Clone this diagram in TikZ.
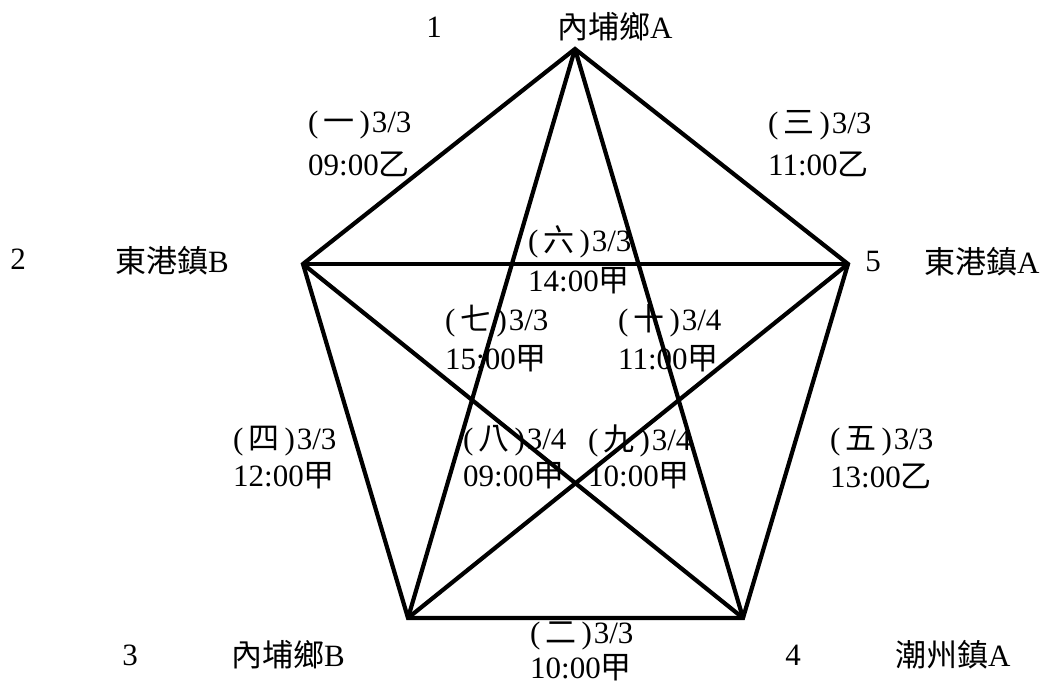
\documentclass[tikz,border=0pt]{standalone}
\usepackage{fontspec}
\setmainfont{Liberation Serif}
\newfontfamily\cjk{Noto Sans CJK TC}
\newcommand\zh[1]{{\cjk #1}}
\newcommand\pz[1]{(\kern5pt{\cjk #1}\kern5pt)\kern2pt}
\begin{document}
\begin{tikzpicture}[x=1pt,y=-1pt,
  edge/.style={line width=4.2pt, line join=miter, line cap=butt},
  txt/.style={font=\fontsize{31}{36}\selectfont, inner sep=0pt, anchor=west},
  num/.style={font=\fontsize{31}{36}\selectfont, inner sep=0pt, anchor=center}]
\useasboundingbox (0,0) rectangle (1043,684);
\coordinate (v1) at (575,49);
\coordinate (v2) at (303,264);
\coordinate (v5) at (848,264);
\coordinate (v3) at (408,618);
\coordinate (v4) at (743,618);
\draw[edge] (v1) -- (v2) -- (v3) -- (v4) -- (v5) -- cycle;
\draw[edge] (v1) -- (v3);
\draw[edge] (v1) -- (v4);
\draw[edge] (v2) -- (v5);
\draw[edge] (v2) -- (v4);
\draw[edge] (v3) -- (v5);
% vertex labels
\node[num] (n1) at (434,27) {1};
\node[txt] (p1) at (557,27) {\zh{內埔鄉}A};
\node[num] (n2) at (18,259) {2};
\node[txt] (p2) at (115,261) {\zh{東港鎮}B};
\node[num] (n5) at (873,262) {5};
\node[txt] (p5) at (924,262) {\zh{東港鎮}A};
\node[num] (n3) at (130,655) {3};
\node[txt] (p3) at (231,655) {\zh{內埔鄉}B};
\node[num] (n4) at (793,655) {4};
\node[txt] (p4) at (895,655) {\zh{潮州鎮}A};
% edge labels
\node[txt] (a1) at (308,125) {\pz{一}3/3};
\node[txt] (b1) at (308,164) {09:00\zh{乙}};
\node[txt] (a3) at (768,125) {\pz{三}3/3};
\node[txt] (b3) at (768,164) {11:00\zh{乙}};
\node[txt] (a6) at (528,242) {\pz{六}3/3};
\node[txt] (b6) at (528,281) {14:00\zh{甲}};
\node[txt] (a7) at (445,321) {\pz{七}3/3};
\node[txt] (b7) at (445,359) {15:00\zh{甲}};
\node[txt] (a10) at (618,321) {\pz{十}3/4};
\node[txt] (b10) at (618,359) {11:00\zh{甲}};
\node[txt] (a4) at (233,441) {\pz{四}3/3};
\node[txt] (b4) at (233,476) {12:00\zh{甲}};
\node[txt] (a8) at (463,441) {\pz{八}3/4};
\node[txt] (b8) at (463,476) {09:00\zh{甲}};
\node[txt] (a9) at (588,441) {\pz{九}3/4};
\node[txt] (b9) at (588,476) {10:00\zh{甲}};
\node[txt] (a5) at (830,441) {\pz{五}3/3};
\node[txt] (b5) at (830,476) {13:00\zh{乙}};
\node[txt] (a2) at (530,636) {\pz{二}3/3};
\node[txt] (b2) at (530,668) {10:00\zh{甲}};
\end{tikzpicture}
\end{document}
